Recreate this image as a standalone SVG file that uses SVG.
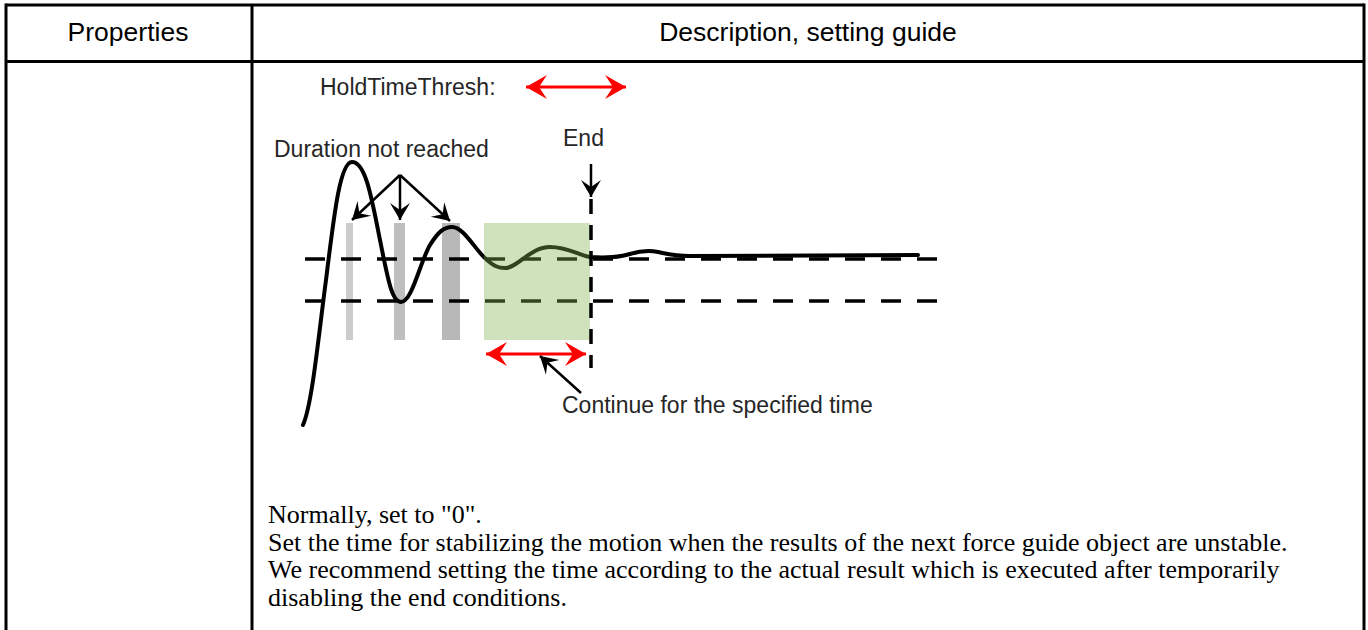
<svg xmlns="http://www.w3.org/2000/svg" width="1368" height="630" viewBox="0 0 1368 630">
<style>
.border{stroke:#000;stroke-width:3;fill:none}
.hdr{font-family:"Liberation Sans",Arial,sans-serif;font-size:26.5px;fill:#000}
.lbl{font-family:"Liberation Sans",Arial,sans-serif;font-size:23px;fill:#262626}
.body{font-family:"Liberation Serif","Times New Roman",serif;font-size:26px;fill:#000}
.dash{stroke:#000;stroke-width:3.5;stroke-dasharray:20 16;fill:none}
.red{stroke:#f00;stroke-width:3;fill:none}
.blk{stroke:#000;stroke-width:2.5;fill:none}
</style>
<defs>
<marker id="rh" viewBox="-22 -13 24 26" refX="0" refY="0" markerWidth="24" markerHeight="26" markerUnits="userSpaceOnUse" orient="auto-start-reverse">
<path d="M0,0 L-21,-12 L-13,0 L-21,12 Z" fill="#f00"/>
</marker>
<marker id="bh" viewBox="-19 -11 20 22" refX="0" refY="0" markerWidth="20" markerHeight="22" markerUnits="userSpaceOnUse" orient="auto">
<path d="M0,0 L-17,-10 L-10,0 L-17,10 Z" fill="#000"/>
</marker>
</defs>
<g id="table">
<line class="border" x1="6" y1="5" x2="1364" y2="5"/>
<line class="border" x1="6" y1="3.5" x2="6" y2="630"/>
<line class="border" x1="1364" y1="3.5" x2="1364" y2="630"/>
<line class="border" x1="252" y1="5" x2="252" y2="630"/>
<line class="border" x1="6" y1="61.5" x2="1364" y2="61.5"/>
</g>
<g id="header-properties"><text class="hdr" x="128" y="41" text-anchor="middle">Properties</text></g>
<g id="header-description"><text class="hdr" x="808" y="41" text-anchor="middle">Description, setting guide</text></g>
<g id="chart">
<text class="lbl" x="320" y="95">HoldTimeThresh:</text>
<text class="lbl" x="274" y="157">Duration not reached</text>
<text class="lbl" x="563" y="146">End</text>
<text class="lbl" x="562" y="413">Continue for the specified time</text>
<rect x="346" y="223" width="7" height="117" fill="#cccccc"/>
<rect x="394" y="223" width="11" height="117" fill="#bfbfbf"/>
<rect x="442" y="223" width="18" height="117" fill="#b8b8b8"/>
<line class="dash" x1="305" y1="259" x2="940" y2="259"/>
<line class="dash" x1="305" y1="301" x2="940" y2="301"/>
<path d="M303,425 C312,405 318,340 326,280 C334,215 340,162 352,162 C366,162 372,200 380,240 C388,280 392,302 401,302 C412,302 420,262 430,245 C438,232 444,227 452,227 C464,227 475,250 487,260 C494,266 498,268 505,268 C518,268 530,247 550,247 C568,247 578,255 590,257 C605,258 620,257 630,254 C640,251 648,250 658,252 C668,254 676,256 690,256 L918,255" stroke="#000" stroke-width="4" fill="none" stroke-linecap="round"/>
<rect x="484" y="223" width="106" height="117" fill="#80b34d" fill-opacity="0.38"/>
<line stroke="#000" stroke-width="3.5" stroke-dasharray="15 11" x1="591" y1="199" x2="591" y2="368"/>
</g>
<g id="connectors">
<line class="red" x1="526" y1="87" x2="626" y2="87" marker-start="url(#rh)" marker-end="url(#rh)"/>
<line class="red" x1="486" y1="354" x2="586" y2="354" marker-start="url(#rh)" marker-end="url(#rh)"/>
<line class="blk" x1="591" y1="164" x2="591" y2="197" marker-end="url(#bh)"/>
<line class="blk" x1="400" y1="175" x2="352" y2="220" marker-end="url(#bh)"/>
<line class="blk" x1="400" y1="175" x2="400" y2="220" marker-end="url(#bh)"/>
<line class="blk" x1="400" y1="175" x2="450" y2="221" marker-end="url(#bh)"/>
<line class="blk" x1="581" y1="393" x2="540" y2="356" marker-end="url(#bh)"/>
</g>
<g id="description">
<text class="body" x="268" y="523">Normally, set to "0".</text>
<text class="body" x="268" y="551">Set the time for stabilizing the motion when the results of the next force guide object are unstable.</text>
<text class="body" x="268" y="578">We recommend setting the time according to the actual result which is executed after temporarily</text>
<text class="body" x="268" y="606">disabling the end conditions.</text>
</g>
</svg>
